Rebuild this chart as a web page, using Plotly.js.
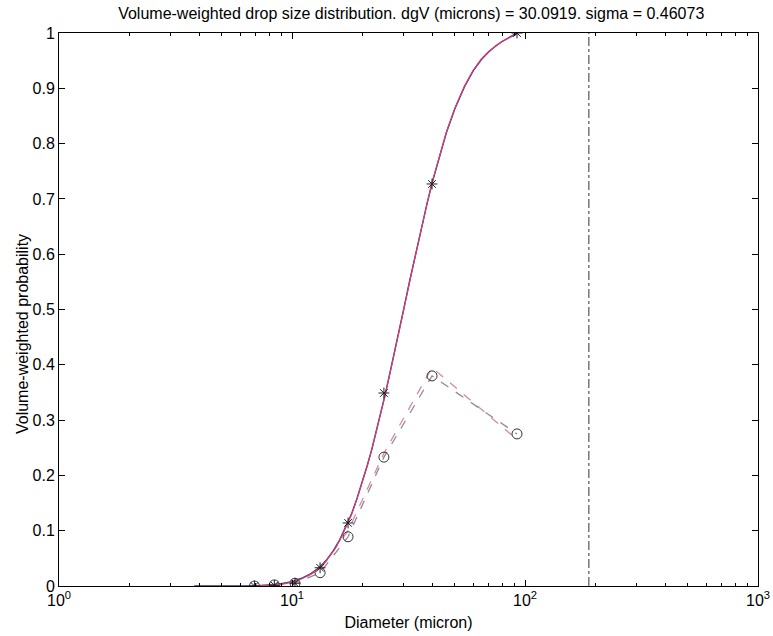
<!DOCTYPE html>
<html>
<head>
<meta charset="utf-8">
<script src="https://cdn.plot.ly/plotly-3.0.1.min.js"></script>
<style>html,body{margin:0;padding:0;background:#fff;}#chart{width:773px;height:636px;}</style>
</head>
<body>
<div id="chart"></div>
<script>
// Measured sizes (micron)
const sizes = [6.9, 8.4, 10.3, 13.2, 17.4, 24.8, 39.9, 92.4];
// Cumulative volume-weighted probability (stars)
const cumulative = [0.0, 0.001, 0.005, 0.033, 0.114, 0.349, 0.727, 1.0];
// Volume fraction per class (circles, grey dashed)
const fraction = [0.0, 0.002, 0.005, 0.024, 0.089, 0.233, 0.38, 0.275];
// Second dashed series (pink dashed)
const fractionFit = [0.0, 0.001, 0.006, 0.03, 0.1, 0.24, 0.395, 0.265];
// Smooth curves
const curveD = [3.8, 5, 6, 6.9, 8, 9, 10, 11, 12, 13, 14, 15, 16, 17, 18, 19, 20, 21, 22, 23, 24, 25, 26, 27, 28, 30, 32, 34, 36, 38, 40, 43, 46, 50, 55, 60, 65, 70, 75, 80, 86, 92.4];
const blueCurve = [0, 0, 0, 0, 0.002, 0.004, 0.008, 0.014, 0.022, 0.032, 0.046, 0.063, 0.083, 0.106, 0.13, 0.158, 0.187, 0.217, 0.247, 0.279, 0.31, 0.343, 0.375, 0.406, 0.437, 0.496, 0.552, 0.603, 0.65, 0.692, 0.73, 0.779, 0.82, 0.863, 0.903, 0.932, 0.952, 0.966, 0.977, 0.985, 0.993, 1.0];
const redD = curveD.slice(3);
const redCurve = [0.0, 0.001, 0.003, 0.007, 0.013, 0.021, 0.031, 0.045, 0.062, 0.082, 0.105, 0.129, 0.157, 0.186, 0.216, 0.246, 0.278, 0.309, 0.342, 0.374, 0.405, 0.436, 0.495, 0.551, 0.602, 0.65, 0.692, 0.731, 0.78, 0.821, 0.864, 0.904, 0.933, 0.953, 0.967, 0.977, 0.985, 0.992, 0.998];
// Vertical marker line
const markerD = [188, 188];
const markerY = [0, 1];
// Tick labels
const xTickVals = [1, 10, 100, 1000];
const xTickText = ['10<sup>0</sup>', '10<sup>1</sup>', '10<sup>2</sup>', '10<sup>3</sup>'];
const yTickVals = [0, 0.1, 0.2, 0.3, 0.4, 0.5, 0.6, 0.7, 0.8, 0.9, 1];
const yTickText = ['0', '0.1', '0.2', '0.3', '0.4', '0.5', '0.6', '0.7', '0.8', '0.9', '1'];

const traces = [
  {x: markerD, y: markerY, mode: 'lines', line: {color: '#333', width: 1, dash: 'dashdot'}, hoverinfo: 'skip'},
  {x: sizes, y: fractionFit, mode: 'lines', line: {color: '#d88a9c', width: 1.3, dash: 'dash'}},
  {x: sizes, y: fraction, mode: 'lines+markers', line: {color: '#8a8a9e', width: 1.3, dash: 'dash'},
   marker: {symbol: 'circle-open', size: 10, color: '#333', line: {width: 1}}},
  {x: curveD, y: blueCurve, mode: 'lines', line: {color: '#2b2b9c', width: 1.4}},
  {x: redD, y: redCurve, mode: 'lines', line: {color: '#d8406a', width: 1.2}},
  {x: sizes, y: cumulative, mode: 'markers', marker: {symbol: 'asterisk-open', size: 9, color: '#222', line: {width: 1, color: '#222'}}}
];

const layout = {
  width: 773, height: 636,
  margin: {l: 59, r: 15, t: 33, b: 50},
  paper_bgcolor: '#fff', plot_bgcolor: '#fff',
  showlegend: false,
  font: {family: 'Liberation Sans, Arial, sans-serif', size: 15, color: '#000'},
  title: {text: 'Volume-weighted drop size distribution. dgV (microns) = 30.0919. sigma = 0.46073',
          font: {size: 16, family: 'Liberation Sans, Arial, sans-serif'}, x: 0.532, xanchor: 'center', y: 0.988, yanchor: 'top'},
  xaxis: {
    type: 'log', range: [0, 3],
    tickvals: xTickVals, ticktext: xTickText,
    ticks: 'inside', ticklen: 6, tickcolor: '#000',
    showline: true, linecolor: '#000', linewidth: 1, mirror: 'ticks',
    showgrid: false, zeroline: false,
    minor: {ticks: 'inside', ticklen: 3, tickcolor: '#000', dtick: 'D1', showgrid: false},
    tickfont: {size: 16},
    title: {text: 'Diameter (micron)', font: {size: 16}, standoff: 8}
  },
  yaxis: {
    range: [0, 1],
    tickvals: yTickVals, ticktext: yTickText,
    ticks: 'inside', ticklen: 6, tickcolor: '#000',
    showline: true, linecolor: '#000', linewidth: 1, mirror: 'ticks',
    showgrid: false, zeroline: false,
    tickfont: {size: 16}
  },
  annotations: [{
    text: 'Volume-weighted probability', textangle: -90, showarrow: false,
    xref: 'paper', yref: 'paper', x: -0.052, y: 0.455, xanchor: 'center', yanchor: 'middle',
    font: {size: 16}
  }]
};

Plotly.newPlot('chart', traces, layout, {staticPlot: true, displayModeBar: false});
</script>
</body>
</html>
